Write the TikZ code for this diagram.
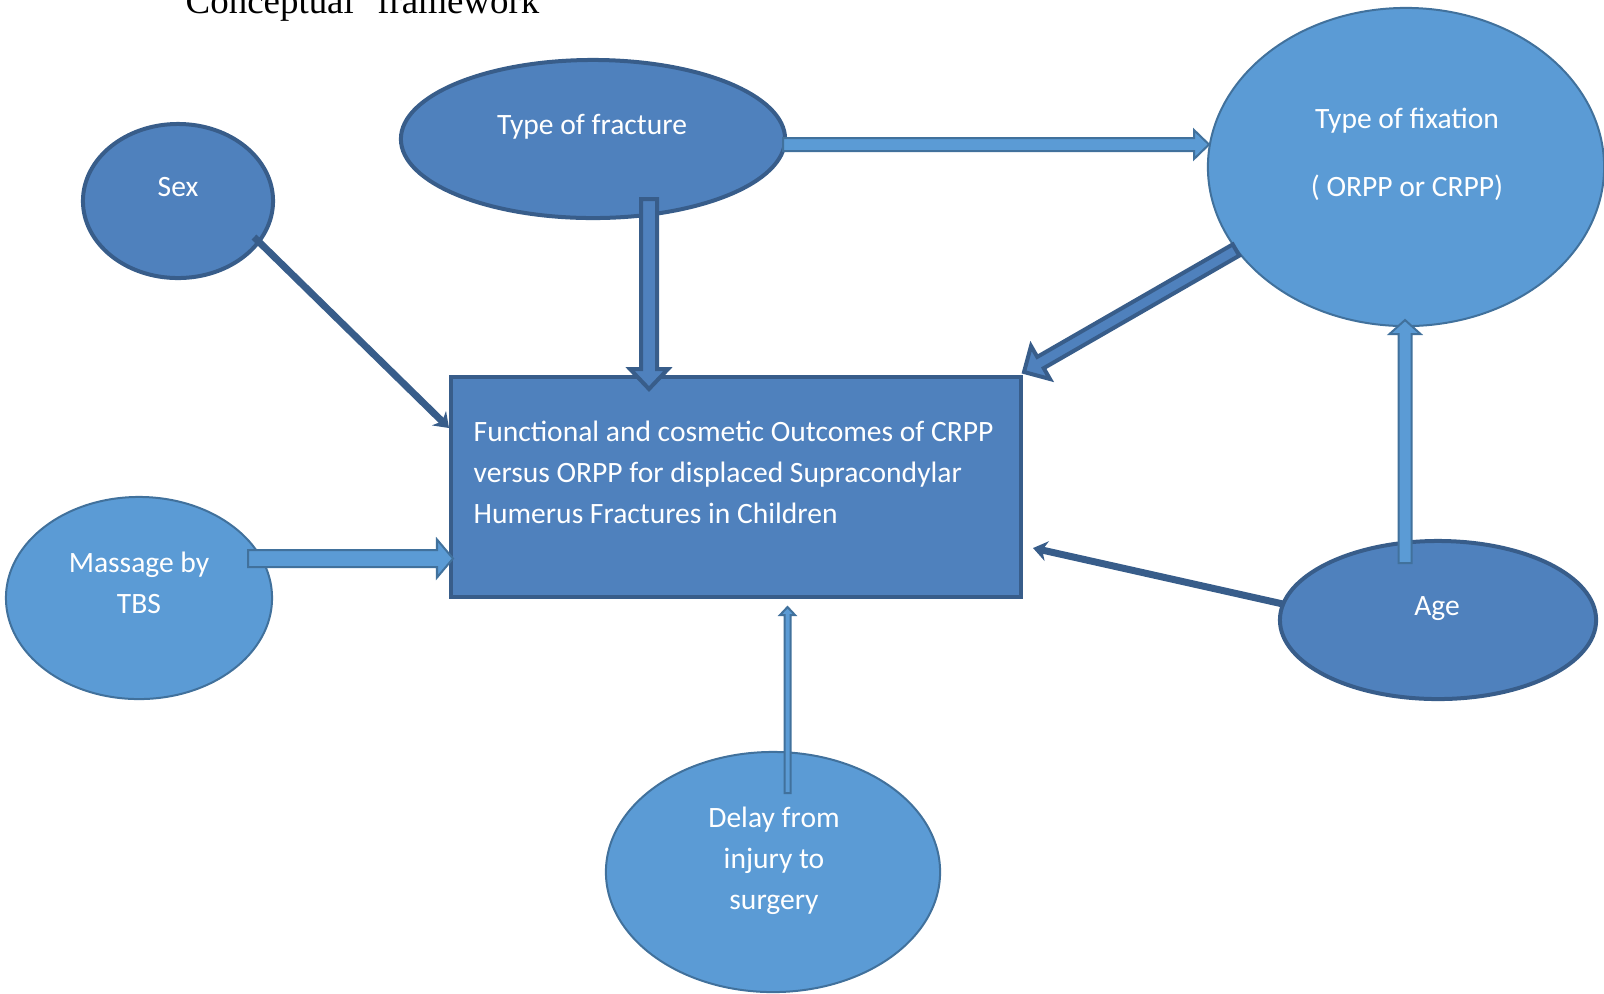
\documentclass[tikz,border=0pt]{standalone}
\usepackage{fontspec}
\setmainfont{Carlito}
\newfontfamily\titlefont{Liberation Serif}
\usetikzlibrary{arrows.meta, calc, shapes.geometric}
\definecolor{boxblue}{HTML}{4F81BD}
\definecolor{edgeblue}{HTML}{385D8A}
\definecolor{paleblue}{HTML}{5B9BD5}
\definecolor{paleedge}{HTML}{41719C}

% block arrow: style, from, to, shaft half width, head half width, head length
\newcommand{\blockarr}[6]{%
  \coordinate (ba-c) at ($(#3)!#6!(#2)$);
  \draw[#1] ($(#2)!#4!90:(#3)$) -- ($(ba-c)!#4!90:(#3)$) -- ($(ba-c)!#5!90:(#3)$) -- (#3)
    -- ($(ba-c)!#5!-90:(#3)$) -- ($(ba-c)!#4!-90:(#3)$) -- ($(#2)!#4!-90:(#3)$) -- cycle;}

\begin{document}
\begin{tikzpicture}[x=0.01cm, y=-0.01cm,
  darkbub/.style={ellipse, fill=boxblue, draw=edgeblue, line width=0.04cm, inner sep=0pt},
  palebub/.style={ellipse, fill=paleblue, draw=paleedge, line width=0.02cm, inner sep=0pt},
  darkbox/.style={rectangle, fill=boxblue, draw=edgeblue, line width=0.045cm, inner sep=0pt},
  bubtxt/.style={white, align=center, inner sep=0pt, font=\fontsize{8.4}{11.7}\selectfont},
  darkarrow/.style={fill=boxblue, draw=edgeblue, line width=0.04cm},
  palearrow/.style={fill=paleblue, draw=paleedge, line width=0.02cm},
  darkline/.style={draw=edgeblue, line width=0.07cm, -{Stealth[length=0.14cm, width=0.2cm]}}]
  \useasboundingbox (0,0) rectangle (1604,993);
  \clip (0,0) rectangle (1604,993);

  \node[anchor=base west, inner sep=0pt, font=\titlefont\fontsize{10.5}{12}\selectfont] (title) at (185,13) {Conceptual\hspace{0.235cm}framework};

  % outcome box and the factors round it
  \node[darkbox, minimum width=5.7cm, minimum height=2.2cm] (outcome) at (736,487) {};
  \node[darkbub, minimum width=1.9cm, minimum height=1.54cm] (sex) at (178,201) {};
  \node[darkbub, minimum width=3.84cm, minimum height=1.58cm] (fracture) at (593,139) {};
  \node[palebub, minimum width=3.96cm, minimum height=3.18cm] (fixation) at (1406,167) {};
  \node[palebub, minimum width=2.66cm, minimum height=2.02cm] (massage) at (139,598) {};
  \node[darkbub, minimum width=3.16cm, minimum height=1.58cm] (age) at (1438,620) {};
  \node[palebub, minimum width=3.34cm, minimum height=2.4cm] (delay) at (773,872) {};

  \node[bubtxt, anchor=north west, align=left] (outcomeT) at (473,420) {Functional and cosmetic Outcomes of CRPP\\versus ORPP for displaced Supracondylar\\Humerus Fractures in Children};
  \node[bubtxt] (sexT) at (178,187) {Sex};
  \node[bubtxt] (fractureT) at (592,127) {Type of fracture};
  \node[bubtxt] (fixationT) at (1407,154) {Type of fixation\\[0.27cm]( ORPP or CRPP)};
  \node[bubtxt] (massageT) at (139,583) {Massage by\\TBS};
  \node[bubtxt] (ageT) at (1437,609) {Age};
  \node[bubtxt] (delayT) at (774,861) {Delay from\\injury to\\surgery};

  % arrow ends
  \coordinate (fracDown) at (649,199);   \coordinate (outTop) at (649,389);
  \coordinate (fracRight) at (783,144.5); \coordinate (fixLeft) at (1209,144.5);
  \coordinate (fixLow) at (1236,250);    \coordinate (outCorner) at (1024,372);
  \coordinate (ageTop) at (1405,563);    \coordinate (fixBottom) at (1405,320);
  \coordinate (massRight) at (248,558.5); \coordinate (outLeft) at (453,558.5);
  \coordinate (delayTop) at (787.5,793); \coordinate (outBottom) at (787.5,607);
  \coordinate (sexLow) at (254,237);     \coordinate (outNW) at (449,428);
  \coordinate (ageLeft) at (1283,604);   \coordinate (outRight) at (1033,548);

  \blockarr{darkarrow}{fracDown}{outTop}{0.08cm}{0.19cm}{0.2cm}
  \blockarr{palearrow}{fracRight}{fixLeft}{0.065cm}{0.145cm}{0.15cm}
  \blockarr{darkarrow}{fixLow}{outCorner}{0.065cm}{0.19cm}{0.19cm}
  \blockarr{palearrow}{ageTop}{fixBottom}{0.065cm}{0.155cm}{0.14cm}
  \blockarr{palearrow}{massRight}{outLeft}{0.085cm}{0.19cm}{0.16cm}
  \blockarr{palearrow}{delayTop}{outBottom}{0.03cm}{0.075cm}{0.08cm}

  \draw[darkline] (sexLow) -- (outNW);
  \draw[darkline] (ageLeft) -- (outRight);
\end{tikzpicture}
\end{document}
